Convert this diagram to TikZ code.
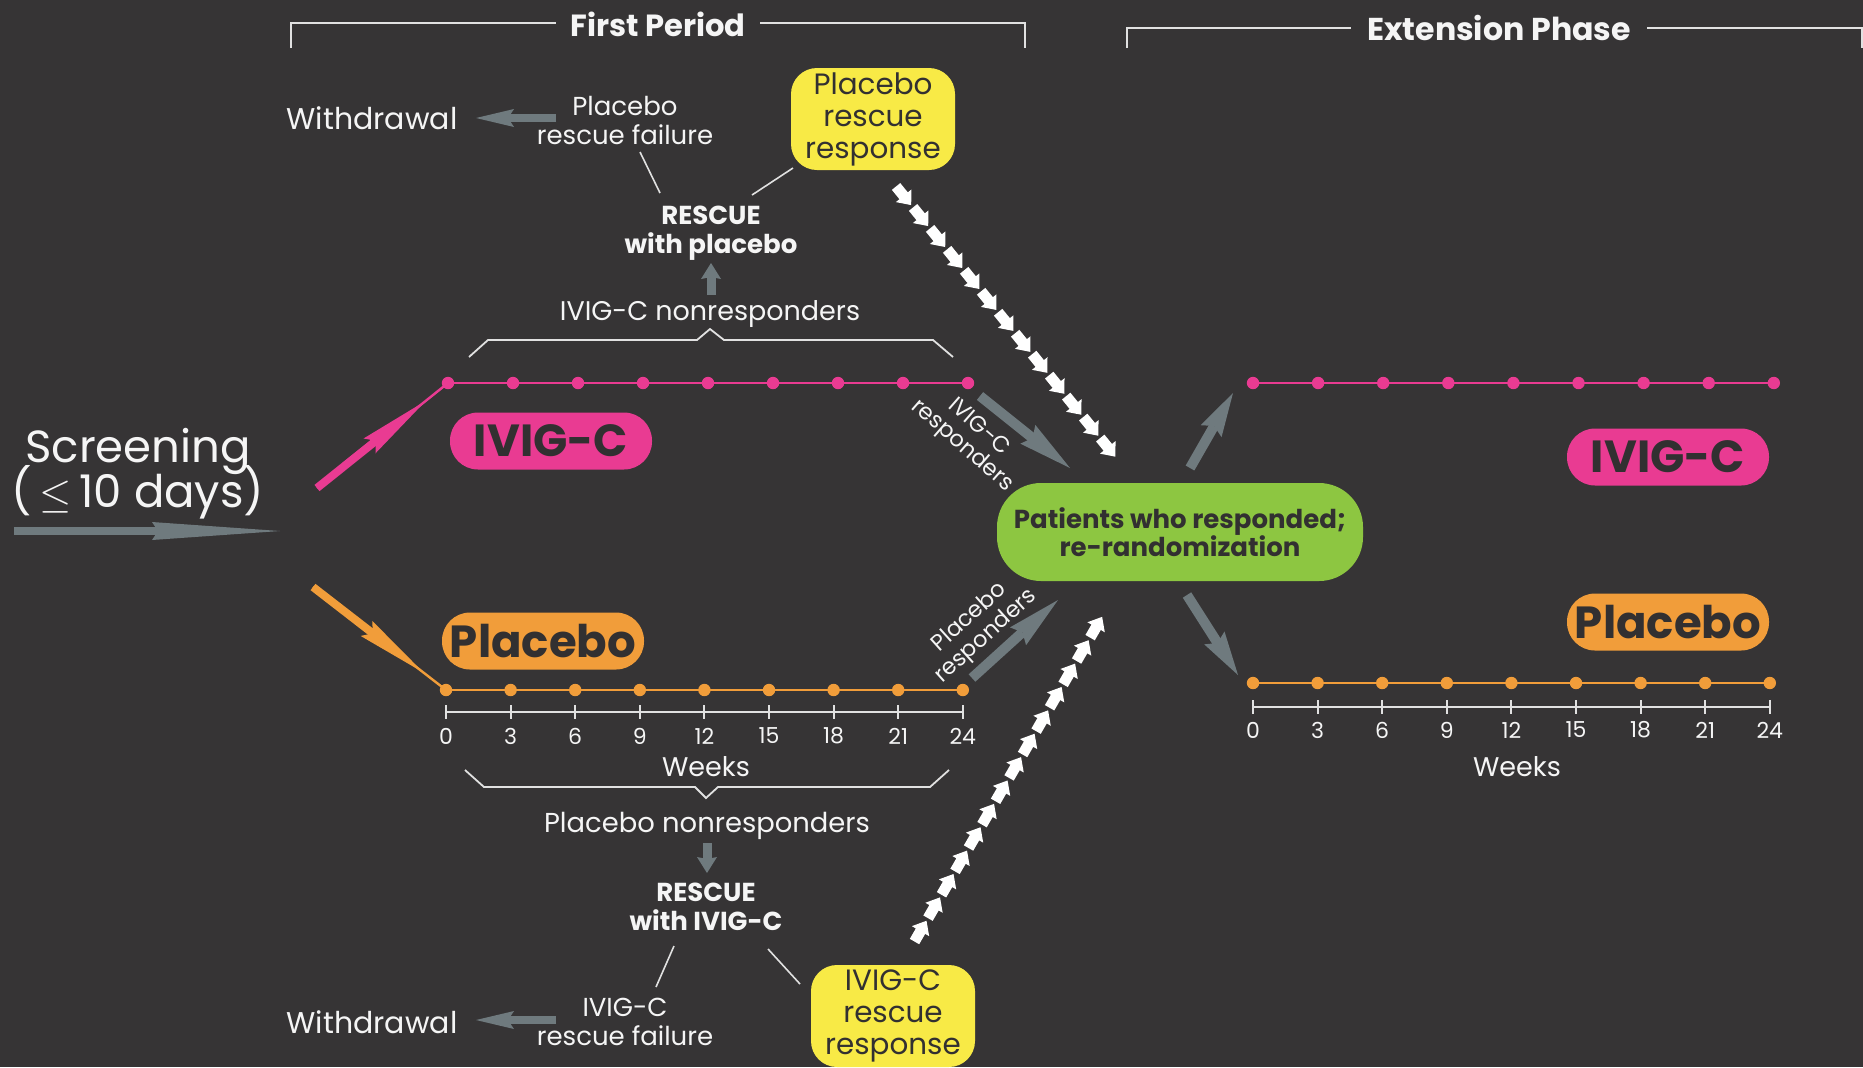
\documentclass[tikz,border=0pt]{standalone}
\usepackage{fontspec}
\setmainfont{Poppins}
\usetikzlibrary{arrows.meta,calc,decorations.markings}
\definecolor{bg}{RGB}{54,52,53}
\definecolor{pinkc}{RGB}{233,59,146}
\definecolor{orangec}{RGB}{241,157,58}
\definecolor{yellowc}{RGB}{248,234,70}
\definecolor{greenc}{RGB}{141,198,65}
\definecolor{grayc}{RGB}{111,122,126}
\definecolor{txt}{RGB}{245,245,245}
\definecolor{lineg}{RGB}{225,225,225}
\definecolor{darkt}{RGB}{50,48,49}
\newcommand{\myfs}[2]{\fontsize{#1}{#2}\selectfont\lineskiplimit=-20pt\relax}
\begin{document}
\begin{tikzpicture}[x=0.5pt,y=-0.5pt,
  wt/.style={text=txt, align=center, inner sep=0pt},
  brk/.style={draw=lineg, line width=1.1pt},
  brc/.style={draw=lineg, line width=0.9pt},
  conn/.style={draw=lineg, line width=0.8pt},
  axisl/.style={draw=lineg, line width=1pt},
  pill/.style={rounded corners=14pt, minimum width=101pt, minimum height=28.5pt, inner sep=0pt, text=darkt, font=\bfseries\myfs{22.5}{24}},
  ybox/.style={fill=yellowc, rounded corners=13pt, minimum width=82pt, minimum height=51pt, inner sep=0pt, text=darkt, align=center, font=\myfs{14.7}{16}},
  pdot/.style={circle, fill=pinkc, minimum size=6.2pt, inner sep=0pt},
  odot/.style={circle, fill=orangec, minimum size=6.2pt, inner sep=0pt},
  garrow/.style={draw=grayc, line width=5pt, -{Stealth[length=27pt,width=12pt,inset=3pt,line width=0pt]}},
  garrows/.style={draw=grayc, line width=5pt, -{Stealth[length=22pt,width=12pt,inset=3pt,line width=0pt]}},
  sarrow/.style={draw=grayc, line width=4pt, -{Stealth[length=64pt,width=9pt,inset=3pt,line width=0pt]}},
  warrow/.style={draw=grayc, line width=3.6pt, -{Stealth[length=19pt,width=9pt,inset=3pt,line width=0pt]}},
  rarrow/.style={draw=grayc, line width=4.5pt, -{Stealth[length=8pt,width=10pt,inset=1pt,line width=0pt]}},
  parrow/.style={draw=pinkc, line width=4pt, -{Stealth[length=36pt,width=9.5pt,inset=4pt,line width=0pt]}},
  oarrow/.style={draw=orangec, line width=4pt, -{Stealth[length=36pt,width=9.5pt,inset=4pt,line width=0pt]}},
  chev/.style={decoration={markings, mark=between positions 0 and 1 step 13.5pt with {\fill[white] (-5.5pt,-2.7pt) -- (0.5pt,-2.7pt) -- (0.5pt,-5pt) -- (6.5pt,0pt) -- (0.5pt,5pt) -- (0.5pt,2.7pt) -- (-5.5pt,2.7pt) -- cycle;}}, decorate}
]
\fill[bg] (0,0) rectangle (1863,1067);
\useasboundingbox (0,0) rectangle (1863,1067);

% ---------- titles ----------
\draw[brk] (291,48) -- (291,23) -- (1025,23) -- (1025,48);
\node[wt, font=\bfseries\myfs{15.3}{17}, fill=bg, inner xsep=7pt, inner ysep=2pt] (fp) at (658,24) {First Period};
\draw[brk] (1127,48) -- (1127,28) -- (1862,28) -- (1862,48);
\node[wt, font=\bfseries\myfs{15.8}{17}, fill=bg, inner xsep=8pt, inner ysep=2pt] (ep) at (1499,28) {Extension Phase};

% ---------- screening ----------
\node[wt, font=\myfs{22.5}{22.5}] (scr) at (138,474) {Screening\\(\,$\leq$\,10 days)};
\coordinate (ss) at (14,531);
\coordinate (se) at (280,531);
\draw[sarrow] (ss) -- (se);

% ---------- first period timelines ----------
\foreach \i in {0,...,8} \node[pdot] (pl\i) at ({448+65*\i},383) {};
\draw[pinkc, line width=1.2pt] (pl0.center) -- (pl8.center);
\foreach \i in {0,...,8} \node[odot] (ol\i) at ({446+64.6*\i},690) {};
\draw[orangec, line width=1.2pt] (ol0.center) -- (ol8.center);

\coordinate (pst) at (317,488);
\draw[pinkc, line width=1.2pt] (pst) -- (pl0.center);
\draw[parrow] (pst) -- ($(pst)!0.83!(pl0.center)$);
\coordinate (ost) at (313,587);
\draw[orangec, line width=1.2pt] (ost) -- (ol0.center);
\draw[oarrow] (ost) -- ($(ost)!0.83!(ol0.center)$);

\foreach \i [evaluate=\i as \wk using {int(3*\i)}] in {0,...,8} {
  \coordinate (la\i) at ({446+64.6*\i},712);
  \draw[axisl] ($(la\i)+(0,-7)$) -- ($(la\i)+(0,7)$);
  \node[wt, font=\myfs{11}{12}] (ln\i) at ($(la\i)+(0,24)$) {\wk};
}
\draw[axisl] (la0) -- (la8);
\node[wt, font=\myfs{13.5}{14}] (wkl) at (706,767) {Weeks};

\node[pill, fill=pinkc] (ivl) at (551,441) {IVIG-C};
\node[pill, fill=orangec] (pbl) at (543,641) {Placebo};

% ---------- braces ----------
\draw[brc] (469,357) -- (488,340) -- (697,340) -- (710,329) -- (724,340) -- (933,340) -- (953,357);
\draw[brc] (465,770) -- (484,787) -- (695,787) -- (706,798) -- (718,787) -- (930,787) -- (949,770);

% ---------- rescue (top) ----------
\node[wt, font=\myfs{13.5}{14}] (inr) at (710,314) {IVIG-C nonresponders};
\coordinate (ru1) at (711,295);
\coordinate (ru2) at (711,263);
\draw[rarrow] (ru1) -- (ru2);
\node[wt, font=\bfseries\myfs{13}{14.5}] (rwp) at (711,233) {RESCUE\\with placebo};
\node[wt, font=\myfs{13}{14.5}] (prf) at (625,120) {Placebo\\rescue failure};
\node[wt, font=\myfs{15}{16}] (wd1) at (372,118) {Withdrawal};
\coordinate (w1s) at (556,118);
\coordinate (w1e) at (476,118);
\draw[warrow] (w1s) -- (w1e);
\node[ybox] (ytop) at (873,119) {Placebo\\rescue\\response};
\coordinate (c1a) at (640,152);
\coordinate (c1b) at (660,193);
\coordinate (c2a) at (793,168);
\coordinate (c2b) at (752,195);
\draw[conn] (c1a) -- (c1b);
\draw[conn] (c2a) -- (c2b);

% ---------- rescue (bottom) ----------
\node[wt, font=\myfs{13.7}{14}] (pnr) at (707,826) {Placebo nonresponders};
\coordinate (rd1) at (707,843);
\coordinate (rd2) at (707,873);
\draw[rarrow] (rd1) -- (rd2);
\node[wt, font=\bfseries\myfs{13}{14.5}] (rwi) at (706,907) {RESCUE\\with IVIG-C};
\node[wt, font=\myfs{13}{14.5}] (irf) at (625,1022) {IVIG-C\\rescue failure};
\node[wt, font=\myfs{15}{16}] (wd2) at (372,1022) {Withdrawal};
\coordinate (w2s) at (556,1020);
\coordinate (w2e) at (476,1020);
\draw[warrow] (w2s) -- (w2e);
\node[ybox] (ybot) at (893,1016) {IVIG-C\\rescue\\response};
\coordinate (c3a) at (674,946);
\coordinate (c3b) at (656,987);
\coordinate (c4a) at (768,949);
\coordinate (c4b) at (800,984);
\draw[conn] (c3a) -- (c3b);
\draw[conn] (c4a) -- (c4b);

% ---------- responders ----------
\coordinate (a1s) at (980,396);
\coordinate (a1e) at (1070,468);
\draw[garrow] (a1s) -- (a1e);
\node[wt, font=\myfs{11.3}{12.5}, rotate=-41] (irsp) at (970,437) {IVIG-C\\responders};
\coordinate (a2s) at (972,678);
\coordinate (a2e) at (1058,600);
\draw[garrow] (a2s) -- (a2e);
\node[wt, font=\myfs{11.3}{12.5}, rotate=42] (prsp) at (978,627) {Placebo\\responders};

\coordinate (cs1) at (903,195);
\coordinate (cs2) at (1114,455);
\path[chev] (cs1) -- (cs2);
\coordinate (cb1) at (920,932);
\coordinate (cb2) at (1098,624);
\path[chev] (cb1) -- (cb2);

\node[fill=greenc, rounded corners=22pt, minimum width=183pt, minimum height=49pt, align=center, inner sep=0pt, text=darkt, font=\bfseries\myfs{13}{14}] (gr) at (1180,532) {Patients who responded;\\re-randomization};

\coordinate (a3s) at (1190,468);
\coordinate (a3e) at (1233,393);
\draw[garrows] (a3s) -- (a3e);
\coordinate (a4s) at (1187,595);
\coordinate (a4e) at (1238,675);
\draw[garrows] (a4s) -- (a4e);

% ---------- extension timelines ----------
\foreach \i in {0,...,8} \node[pdot] (pr\i) at ({1253+65.1*\i},383) {};
\draw[pinkc, line width=1.2pt] (pr0.center) -- (pr8.center);
\foreach \i in {0,...,8} \node[odot] (or\i) at ({1253+64.6*\i},683) {};
\draw[orangec, line width=1.2pt] (or0.center) -- (or8.center);
\foreach \i [evaluate=\i as \wk using {int(3*\i)}] in {0,...,8} {
  \coordinate (ra\i) at ({1253+64.6*\i},707);
  \draw[axisl] ($(ra\i)+(0,-7)$) -- ($(ra\i)+(0,7)$);
  \node[wt, font=\myfs{11}{12}] (rn\i) at ($(ra\i)+(0,23)$) {\wk};
}
\draw[axisl] (ra0) -- (ra8);
\node[wt, font=\myfs{13.5}{14}] (wkr) at (1517,767) {Weeks};

\node[pill, fill=pinkc] (ivr) at (1668,457) {IVIG-C};
\node[pill, fill=orangec] (pbr) at (1668,622) {Placebo};
\end{tikzpicture}
\end{document}
